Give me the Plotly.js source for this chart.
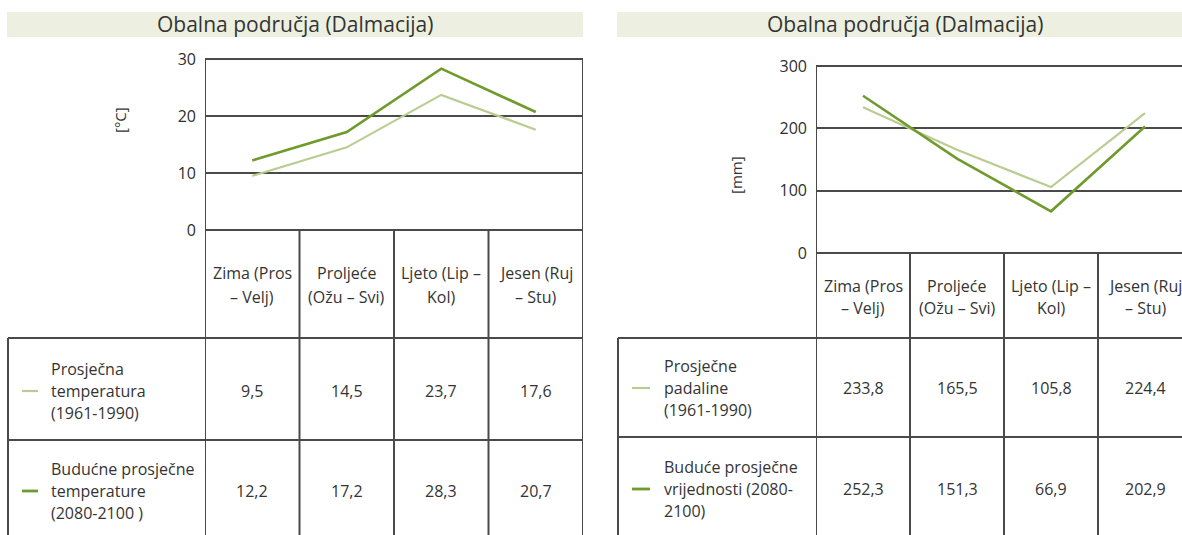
<!DOCTYPE html>
<html>
<head>
<meta charset="utf-8">
<script src="https://cdn.plot.ly/plotly-3.0.1.min.js"></script>
<style>html,body{margin:0;padding:0;background:#fff;}#chart{width:1182px;height:535px;}</style>
</head>
<body>
<div id="chart"></div>
<script>
// ---------------- data ----------------
const panelTitle = 'Obalna područja (Dalmacija)';
const seasons = ['Zima', 'Proljeće', 'Ljeto', 'Jesen'];
const seasonHeaders = [['Zima (Pros', '– Velj)'], ['Proljeće', '(Ožu – Svi)'], ['Ljeto (Lip –', 'Kol)'], ['Jesen (Ruj', '– Stu)']];

const tempUnit = '[°C]';
const tempTicks = [0, 10, 20, 30];
const tempBaseline = [9.5, 14.5, 23.7, 17.6];
const tempFuture = [12.2, 17.2, 28.3, 20.7];
const tempRowLabels = [['Prosječna', 'temperatura', '(1961-1990)'], ['Budućne prosječne', 'temperature', '(2080-2100 )']];

const precipUnit = '[mm]';
const precipTicks = [0, 100, 200, 300];
const precipBaseline = [233.8, 165.5, 105.8, 224.4];
const precipFuture = [252.3, 151.3, 66.9, 202.9];
const precipRowLabels = [['Prosječne', 'padaline', '(1961-1990)'], ['Buduće prosječne', 'vrijednosti (2080-', '2100)']];

// ---------------- styling ----------------
const W = 1182, H = 535;
const FONT = 'Open Sans, Noto Sans, sans-serif';
const TXT = '#343434';
const GRID = '#4a4a4a';
const LIGHT = '#b9cd92';
const DARK = '#6f9b2c';
const BAR = '#edf0e1';
const FS = 16;
const px = x => x / W;
const py = y => 1 - y / H;
const fmt = v => v.toFixed(1).replace('.', ',');

const traces = [], shapes = [], annotations = [];
const layout = {
  width: W, height: H, margin: {l: 0, r: 0, t: 0, b: 0},
  paper_bgcolor: '#fff', plot_bgcolor: 'rgba(0,0,0,0)',
  showlegend: false, font: {family: FONT, color: TXT, size: FS}
};

function panel(o) {
  const xa = 'xaxis' + o.n, ya = 'yaxis' + o.n, xr = 'x' + o.n, yr = 'y' + o.n;
  const g = o.g;
  layout[xa] = {domain: [px(g.left), Math.min(1, px(g.right))],
    range: [-0.5, -0.5 + (Math.min(W, g.right) - g.left) / g.colW],
    showgrid: false, zeroline: false, showticklabels: false, ticks: '', fixedrange: true, anchor: yr};
  layout[ya] = {domain: [py(g.zeroY), py(g.top)], range: [o.ticks[0], o.ticks[o.ticks.length - 1]],
    tickvals: o.ticks, ticks: '', showgrid: true, gridcolor: GRID, gridwidth: 2, zeroline: false,
    tickfont: {size: 16, color: '#2e2e2e', family: FONT}, ticklabelstandoff: 8, fixedrange: true, anchor: xr};
  const xs = seasons.map((_, i) => i);
  traces.push({type: 'scatter', mode: 'lines', x: xs, y: o.base, xaxis: xr, yaxis: yr,
    line: {color: LIGHT, width: 2.2}, hoverinfo: 'skip', cliponaxis: false});
  traces.push({type: 'scatter', mode: 'lines', x: xs, y: o.fut, xaxis: xr, yaxis: yr,
    line: {color: DARK, width: 2.6}, hoverinfo: 'skip', cliponaxis: false});

  const ln = {color: GRID, width: 2};
  // title bar
  shapes.push({type: 'rect', xref: 'paper', yref: 'paper', x0: px(g.barL), x1: px(g.barR), y0: py(g.barB), y1: py(g.barT),
    fillcolor: BAR, line: {width: 0}, layer: 'below'});
  annotations.push({xref: 'paper', yref: 'paper', x: px(g.titleX), y: py(g.titleY), text: panelTitle,
    showarrow: false, font: {size: 21, color: TXT}, xanchor: 'center', yanchor: 'middle'});
  // unit label
  annotations.push({xref: 'paper', yref: 'paper', x: px(g.unitX), y: py(g.unitY), text: o.unit, textangle: -90,
    showarrow: false, font: {size: 15, color: TXT}, xanchor: 'center', yanchor: 'middle'});
  // vertical column lines
  for (let i = 0; i <= seasons.length; i++) {
    const xv = i - 0.5;
    const outer = (i === 0) || (i === seasons.length);
    if (i === seasons.length && !g.rightBorder) continue;
    shapes.push({type: 'line', xref: xr, yref: 'paper', x0: xv, x1: xv, y0: py(H), y1: py(outer ? g.top : g.zeroY), line: ln});
  }
  // horizontal table lines
  shapes.push({type: 'line', xref: 'paper', yref: 'paper', x0: px(g.left), x1: px(Math.min(W, g.right)), y0: py(g.zeroY), y1: py(g.zeroY), line: ln});
  shapes.push({type: 'line', xref: 'paper', yref: 'paper', x0: px(g.left), x1: px(Math.min(W, g.right)), y0: py(g.top), y1: py(g.top), line: ln});
  g.rowLines.forEach(y => shapes.push({type: 'line', xref: 'paper', yref: 'paper', x0: px(g.tableL), x1: px(Math.min(W, g.right)), y0: py(y), y1: py(y), line: ln}));
  shapes.push({type: 'line', xref: 'paper', yref: 'paper', x0: px(g.tableL), x1: px(g.tableL), y0: py(g.rowLines[0]), y1: py(H), line: ln});
  // headers
  seasonHeaders.forEach((lines, i) => lines.forEach((t, k) => annotations.push({
    xref: xr, yref: 'paper', x: i, y: py(g.headY[k]), text: t, showarrow: false,
    font: {size: FS, color: TXT}, xanchor: 'center', yanchor: 'middle'})));
  // rows
  [o.base, o.fut].forEach((vals, r) => {
    vals.forEach((v, i) => annotations.push({xref: xr, yref: 'paper', x: i, y: py(g.valY[r]), text: fmt(v),
      showarrow: false, font: {size: FS, color: TXT}, xanchor: 'center', yanchor: 'middle'}));
    o.rowLabels[r].forEach((t, k) => annotations.push({xref: 'paper', yref: 'paper', x: px(g.labelX), y: py(g.valY[r] + (k - 1) * g.lineGap),
      text: t, showarrow: false, font: {size: FS, color: TXT}, xanchor: 'left', yanchor: 'middle'}));
    shapes.push({type: 'line', xref: 'paper', yref: 'paper', x0: px(g.legX[0]), x1: px(g.legX[1]), y0: py(g.valY[r]), y1: py(g.valY[r]),
      line: {color: r === 0 ? LIGHT : DARK, width: r === 0 ? 2.2 : 2.8}});
  });
}

panel({n: '', base: tempBaseline, fut: tempFuture, ticks: tempTicks, unit: tempUnit, rowLabels: tempRowLabels,
  g: {left: 205, right: 583, colW: 94.5, top: 59, zeroY: 230, rightBorder: true, barL: 7, barR: 583, barT: 12, barB: 37,
      titleX: 295, titleY: 24, unitX: 120, unitY: 120, rowLines: [338, 440], tableL: 8, headY: [273, 297],
      valY: [391, 491], lineGap: 22, labelX: 49, legX: [22, 38]}});
panel({n: '2', base: precipBaseline, fut: precipFuture, ticks: precipTicks, unit: precipUnit, rowLabels: precipRowLabels,
  g: {left: 816, right: 1192, colW: 94, top: 66, zeroY: 253, rightBorder: false, barL: 617, barR: 1182, barT: 12, barB: 37,
      titleX: 905, titleY: 24, unitX: 736, unitY: 175, rowLines: [338, 437], tableL: 618, headY: [286, 308],
      valY: [388, 489], lineGap: 22, labelX: 662, legX: [632, 650]}});

layout.shapes = shapes;
layout.annotations = annotations;
Plotly.newPlot('chart', traces, layout, {displayModeBar: false, staticPlot: true});
</script>
</body>
</html>
